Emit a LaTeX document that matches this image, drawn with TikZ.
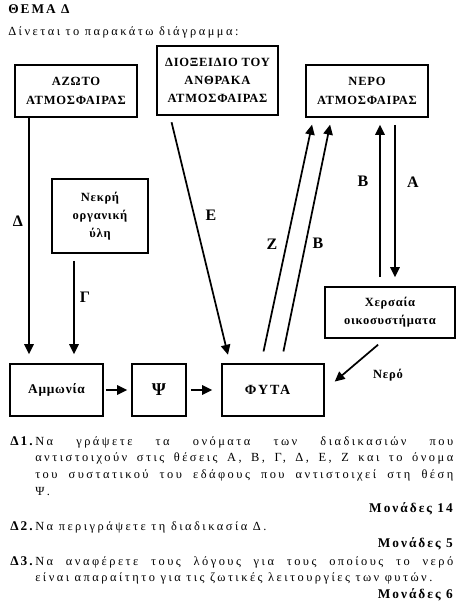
\documentclass[tikz,border=0pt]{standalone}
\usepackage{fontspec}
\setmainfont{Liberation Serif}
\newfontfamily\bodyf[LetterSpace=20]{Liberation Serif}
\newfontfamily\boldf[LetterSpace=15]{Liberation Serif}
\newfontfamily\boxf[LetterSpace=6]{Liberation Serif}
\newfontfamily\wideboxf[LetterSpace=14]{Liberation Serif}
\usetikzlibrary{arrows.meta}
\begin{document}
\begin{tikzpicture}[x=0.75pt,y=-0.75pt,
  box/.style={draw, line width=1.2pt, inner sep=0pt, align=center,
    font=\boxf\bfseries\fontsize{9.4pt}{13.7pt}\selectfont},
  bigbox/.style={box, font=\boxf\bfseries\fontsize{10pt}{12pt}\selectfont},
  arr/.style={line width=1.3pt, -{Triangle[length=7.5pt,width=7pt]}},
  lbl/.style={inner sep=0pt, font=\bfseries\fontsize{12pt}{14pt}\selectfont},
  body/.style={inner sep=0pt, anchor=base west, font=\bodyf\fontsize{9.3pt}{12.5pt}\selectfont},
  bodyb/.style={inner sep=0pt, font=\boldf\bfseries\fontsize{10pt}{12.5pt}\selectfont}]
\useasboundingbox (0,0) rectangle (465,611);
% header
\node[bodyb, anchor=base west, font=\boldf\bfseries\fontsize{10pt}{12pt}\selectfont] (title) at (8,13) {ΘΕΜΑ Δ};
\node[body] (intro) at (8,35) {Δίνεται το παρακάτω διάγραμμα:};
% boxes
\node[box, minimum width=91.5pt, minimum height=39pt] (azoto) at (76,91) {ΑΖΩΤΟ\\ΑΤΜΟΣΦΑΙΡΑΣ};
\node[box, minimum width=90.75pt, minimum height=51.75pt] (diox) at (217.5,80.5) {ΔΙΟΞΕΙΔΙΟ ΤΟΥ\\ΑΝΘΡΑΚΑ\\ΑΤΜΟΣΦΑΙΡΑΣ};
\node[box, minimum width=91.5pt, minimum height=39pt] (nero) at (367,91) {ΝΕΡΟ\\ΑΤΜΟΣΦΑΙΡΑΣ};
\node[box, minimum width=72pt, minimum height=55.5pt] (nekri) at (100,216) {Νεκρή\\οργανική\\ύλη};
\node[box, minimum width=97.5pt, minimum height=38.25pt] (chers) at (390,312.5) {Χερσαία\\οικοσυστήματα};
\node[bigbox, minimum width=69.75pt, minimum height=39pt] (ammon) at (56.5,390) {Αμμωνία};
\node[bigbox, minimum width=40.5pt, minimum height=39pt, font=\bfseries\fontsize{13.5pt}{14pt}\selectfont] (psi) at (159,390) {Ψ};
\node[draw, line width=1.2pt, minimum width=76.5pt, minimum height=39pt] (fyta) at (273,390) {};
\node[inner sep=0pt, font=\wideboxf\bfseries\fontsize{10.5pt}{12pt}\selectfont] (fytat) at (267.5,390) {ΦΥΤΑ};
% arrows
\draw[arr] (azoto.south -| 29,0) -- ([yshift=6.75pt]ammon.north -| 29,0);
\draw[arr, shorten <=5.25pt] (nekri.south -| 74,0) -- ([yshift=6.75pt]ammon.north -| 74,0);
\draw[arr, shorten <=5pt, shorten >=6.5pt] (diox.south -| 170,0) -- (fyta.north -| 230,0);
\draw[arr, shorten <=9pt, shorten >=5.25pt] (fyta.north -| 261,0) -- (nero.south -| 313.5,0);
\draw[arr, shorten <=9pt, shorten >=5.25pt] (fyta.north -| 281,0) -- (nero.south -| 331.5,0);
\draw[arr, shorten <=6.75pt, shorten >=5.25pt] (chers.north -| 380,0) -- (nero.south -| 380,0);
\draw[arr, shorten <=5.25pt, shorten >=6.75pt] (nero.south -| 395,0) -- (chers.north -| 395,0);
\draw[arr, shorten <=6.75pt, shorten >=9.75pt] (chers.south -| 385,0) -- (fyta.east |- 0,390);
\draw[arr, shorten <=1.5pt, shorten >=3pt] (ammon) -- (psi);
\draw[arr, shorten <=3pt, shorten >=6.75pt] (psi) -- (fyta);
% labels
\node[lbl] (lD) at (18,221) {Δ};
\node[lbl] (lE) at (211,215) {Ε};
\node[lbl] (lG) at (85,297) {Γ};
\node[lbl] (lZ) at (272,244) {Ζ};
\node[lbl] (lB1) at (318,243) {Β};
\node[lbl] (lB2) at (363,181) {Β};
\node[lbl] (lA) at (413,182) {Α};
\node[inner sep=0pt, font=\boxf\bfseries\fontsize{9.4pt}{12pt}\selectfont] (lN) at (388,375) {Νερό};
% questions
\node[bodyb, anchor=base west] (q1) at (10,445) {Δ1.};
\node[body] (q1a) at (35,445) {\makebox[313.5pt][s]{Να γράψετε τα ονόματα των διαδικασιών που}};
\node[body] (q1b) at (35,461.7) {\makebox[313.5pt][s]{αντιστοιχούν στις θέσεις Α, Β, Γ, Δ, Ε, Ζ και το όνομα}};
\node[body] (q1c) at (35,478.4) {\makebox[313.5pt][s]{του συστατικού του εδάφους που αντιστοιχεί στη θέση}};
\node[body] (q1d) at (35,495.1) {Ψ.};
\node[bodyb, anchor=base east] (m1) at (453,512) {Μονάδες 14};
\node[bodyb, anchor=base west] (q2) at (10,530) {Δ2.};
\node[body] (q2a) at (35,530) {Να περιγράψετε τη διαδικασία Δ.};
\node[bodyb, anchor=base east] (m2) at (453,547) {Μονάδες 5};
\node[bodyb, anchor=base west] (q3) at (10,565) {Δ3.};
\node[body] (q3a) at (35,565) {\makebox[313.5pt][s]{Να αναφέρετε τους λόγους για τους οποίους το νερό}};
\node[body] (q3b) at (35,581.7) {είναι απαραίτητο για τις ζωτικές λειτουργίες των φυτών.};
\node[bodyb, anchor=base east] (m3) at (453,598) {Μονάδες 6};
\end{tikzpicture}
\end{document}
